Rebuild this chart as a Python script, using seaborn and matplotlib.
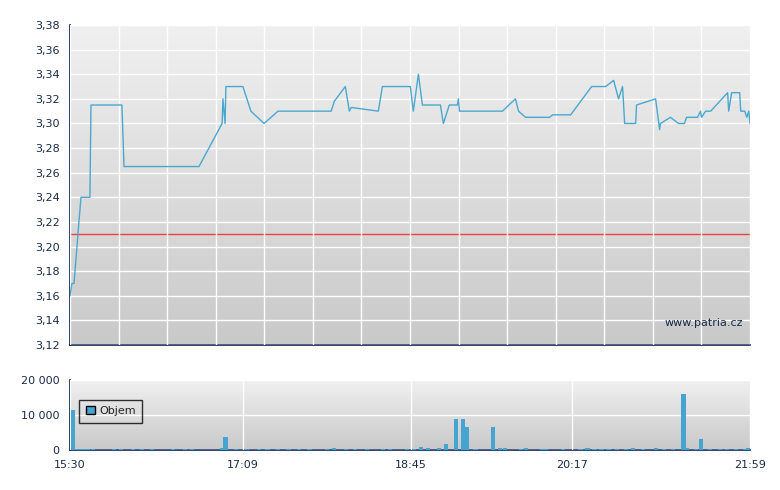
import numpy as np
import pandas as pd
import matplotlib
matplotlib.use('Agg')
import matplotlib.pyplot as plt
from matplotlib.ticker import FuncFormatter
import seaborn as sns

sns.set_style('white')
plt.rcParams['font.family'] = ['DejaVu Sans']

# price: minutes after 15:30, price
price_min = [0, 1.1, 2.3, 5.1, 6.3, 11.4, 12, 29.7, 30.9, 73.8, 87, 87.5, 88.7, 89.2, 98.9, 103.5,
             111, 119, 149.4, 151.2, 157.5, 159.8, 160.9, 176.4, 178.7, 194.7, 196.4, 199.3, 201.6,
             211.9, 213.6, 217, 221.6, 222.2, 222.8, 247.4, 254.8, 256.6, 260.6, 274.3, 276.1, 286.4,
             298.4, 306.4, 311, 313.8, 316.1, 317.3, 323.6, 324.1, 335, 337.3, 337.8, 343.5, 348.1,
             351.5, 352.7, 359, 360.7, 361.3, 363.6, 366.5, 376.2, 376.8, 378.5, 383.1, 383.7, 386,
             387.2, 388.3, 389]
price_val = [3.16, 3.17, 3.17, 3.22, 3.24, 3.24, 3.315, 3.315, 3.265, 3.265, 3.30, 3.32, 3.30, 3.33,
             3.33, 3.31, 3.30, 3.31, 3.31, 3.318, 3.33, 3.31, 3.313, 3.31, 3.33, 3.33, 3.31, 3.34,
             3.315, 3.315, 3.30, 3.315, 3.315, 3.32, 3.31, 3.31, 3.32, 3.31, 3.305, 3.305, 3.307,
             3.307, 3.33, 3.33, 3.335, 3.32, 3.33, 3.30, 3.30, 3.315, 3.32, 3.295, 3.30, 3.305, 3.30,
             3.30, 3.305, 3.305, 3.31, 3.305, 3.31, 3.31, 3.325, 3.31, 3.325, 3.325, 3.31, 3.31,
             3.305, 3.31, 3.30]
ref_price = 3.21

# volume: minutes after 15:30, shares
vol_min = [1.7, 3.4, 5.7, 8, 10.3, 13, 25, 29, 36, 41, 47, 59, 66, 70, 87, 89, 95, 101, 108, 113,
           119, 125, 131, 137, 147, 151, 158, 163, 170, 179, 183, 193, 197, 201, 205, 211, 215, 221,
           225, 227, 232, 242, 246, 249, 258, 261, 270, 272, 282, 292, 296, 300, 304, 308, 313, 318,
           322, 328, 335, 340, 345, 351, 353, 358, 361, 366, 372, 376, 381, 386, 388]
vol_val = [11500, 300, 300, 300, 300, 200, 300, 300, 300, 300, 200, 300, 300, 300, 600, 3800, 300,
           300, 300, 300, 300, 300, 300, 300, 300, 600, 300, 300, 300, 300, 300, 300, 300, 900, 600,
           600, 1800, 9000, 9000, 6500, 300, 6500, 600, 600, 300, 600, 300, 300, 300, 300, 600, 300,
           300, 300, 300, 300, 600, 300, 600, 300, 300, 16000, 600, 300, 3200, 300, 300, 300, 300,
           300, 600]

ticks = [0, 99, 195, 287, 389]
tick_labels = ['15:30', '17:09', '18:45', '20:17', '21:59']

navy = '#0b2454'
fig = plt.figure(figsize=(7.8, 4.9), dpi=100)
ax = fig.add_axes([70 / 780, 145 / 490, 680 / 780, 320 / 490])
axv = fig.add_axes([70 / 780, 40 / 490, 680 / 780, 70 / 490])


def style(a, top, bottom):
    grad = np.linspace(0, 1, 256).reshape(-1, 1)
    a.imshow(grad, extent=[0, 1, 0, 1], transform=a.transAxes, aspect='auto',
             cmap=matplotlib.colors.LinearSegmentedColormap.from_list('g', [top, bottom]),
             zorder=0, origin='upper')
    for s in ['top', 'right']:
        a.spines[s].set_visible(False)
    for s in ['left', 'bottom']:
        a.spines[s].set_color(navy)
        a.spines[s].set_linewidth(1.2)
    a.grid(True, color='white', linewidth=1, zorder=1)
    a.set_axisbelow(False)
    a.tick_params(colors=navy, labelsize=8, length=4, direction='out', labelcolor='#1a2a4a')


# price panel
style(ax, '#f0f0f0', '#c9c9c9')
df = pd.DataFrame({'t': price_min, 'p': price_val})
sns.lineplot(data=df, x='t', y='p', ax=ax, color='#4aa8d0', linewidth=1, zorder=3)
ax.axhline(ref_price, color='#f04040', linewidth=1, zorder=2)
ax.set_ylim(3.12, 3.38)
ax.set_yticks(np.arange(3.12, 3.3801, 0.02))
ax.yaxis.set_major_formatter(FuncFormatter(lambda v, p: f'{v:.2f}'.replace('.', ',')))
ax.set_xlim(0, 389)
ax.set_xticks(np.linspace(0, 389, 15))
ax.tick_params(axis='x', labelbottom=False)
ax.set_xlabel('')
ax.set_ylabel('')
ax.text(0.99, 0.06, 'www.patria.cz', transform=ax.transAxes, ha='right', fontsize=8,
        color='#1a2a4a', zorder=4)

# volume panel
style(axv, '#f0f0f0', '#c9c9c9')
axv.bar(vol_min, vol_val, width=2.4, color='#45a5d0', linewidth=0, zorder=3, label='Objem')
axv.set_xlim(0, 389)
axv.set_ylim(0, 20000)
axv.set_yticks([0, 10000, 20000])
axv.yaxis.set_major_formatter(FuncFormatter(lambda v, p: f'{int(v):,}'.replace(',', ' ')))
axv.set_xticks(ticks)
axv.set_xticklabels(tick_labels)
leg = axv.legend(loc='upper left', bbox_to_anchor=(0.005, 0.8), fontsize=8, frameon=True,
                 fancybox=False, handlelength=0.8, handletextpad=0.4, borderpad=0.6)
leg.get_frame().set_edgecolor('black')
leg.get_frame().set_facecolor('none')
leg.legend_handles[0].set_edgecolor('black')
leg.legend_handles[0].set_linewidth(1)

fig.savefig('out.png', dpi=100)
